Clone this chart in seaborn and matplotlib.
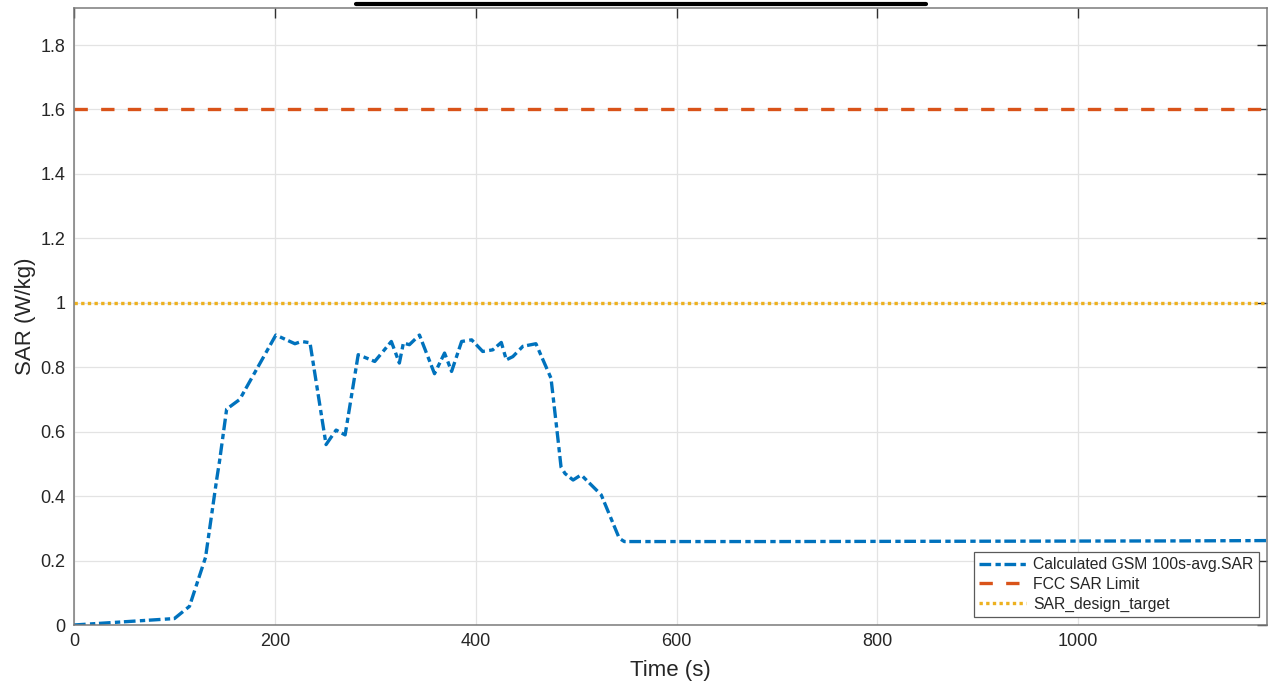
import numpy as np
import pandas as pd
import matplotlib
matplotlib.use("Agg")
import matplotlib.pyplot as plt
import seaborn as sns
from matplotlib.lines import Line2D

# ---- data ----
time_s = [0, 50, 100, 115, 131, 142, 145, 152, 165, 201, 220, 226.5, 235, 251, 261, 270,
          283, 299.5, 316, 324, 328, 334, 344, 359, 369, 376, 386, 396, 407, 417, 425.5,
          430.5, 437, 447, 460, 475, 482, 485, 489, 497, 505, 525, 543, 548, 700, 900,
          1100, 1188]
sar_avg = [0, 0.01, 0.02, 0.058, 0.21, 0.45, 0.51, 0.67, 0.70, 0.90, 0.873, 0.88, 0.876,
           0.56, 0.605, 0.59, 0.839, 0.818, 0.88, 0.813, 0.875, 0.87, 0.90, 0.78, 0.844,
           0.787, 0.88, 0.885, 0.849, 0.854, 0.877, 0.823, 0.833, 0.865, 0.873, 0.766,
           0.575, 0.49, 0.47, 0.45, 0.466, 0.404, 0.269, 0.259, 0.259, 0.26, 0.261, 0.262]
fcc_limit = 1.6
design_target = 1.0
x_ticks = [0, 200, 400, 600, 800, 1000]
y_ticks = [0, 0.2, 0.4, 0.6, 0.8, 1.0, 1.2, 1.4, 1.6, 1.8]
y_tick_labels = ["0", "0.2", "0.4", "0.6", "0.8", "1", "1.2", "1.4", "1.6", "1.8"]
labels = ["Calculated GSM 100s-avg.SAR", "FCC SAR Limit", "SAR_design_target"]

sns.set_theme(style="white")
plt.rcParams['font.family'] = ['Liberation Sans', 'DejaVu Sans']

fig = plt.figure(figsize=(12.7, 6.86), dpi=100)
ax = fig.add_axes([74/1270, 1 - 625/686, (1267 - 74)/1270, (625 - 8)/686])

df = pd.DataFrame({"Time (s)": time_s, "SAR": sar_avg})
t_end = 1188
lim_df = pd.DataFrame({"Time (s)": [0, t_end], "FCC": [fcc_limit]*2, "TGT": [design_target]*2})

lw = 2.4
sns.lineplot(data=df, x="Time (s)", y="SAR", ax=ax, color="#0072BD", linewidth=lw,
             linestyle="-.", label=labels[0], estimator=None)
ax.lines[-1].set_dashes([3.5, 1.3, 1.6, 1.1])
sns.lineplot(data=lim_df, x="Time (s)", y="FCC", ax=ax, color="#D95319", linewidth=lw,
             linestyle="--", label=labels[1], estimator=None)
ax.lines[-1].set_dashes([4.0, 4.0])
sns.lineplot(data=lim_df, x="Time (s)", y="TGT", ax=ax, color="#EDB120", linewidth=lw,
             linestyle=":", label=labels[2], estimator=None)
ax.lines[-1].set_dashes([1, 1])

ax.set_xlim(0, t_end)
ax.set_ylim(0, 1.915)
ax.set_xticks(x_ticks)
ax.set_yticks(y_ticks)
ax.set_yticklabels(y_tick_labels)
ax.tick_params(axis="both", which="both", direction="in", length=7, width=1,
               colors="#303030", labelsize=13, top=True, right=True,
               labelcolor="#262626", pad=6)
ax.grid(True, color="#e3e3e3", linewidth=0.9)
for s in ax.spines.values():
    s.set_color("#7a7a7a")
    s.set_linewidth(1.1)
    s.set_visible(True)

ax.set_xlabel("Time (s)", fontsize=16, color="#262626", labelpad=7)
ax.set_ylabel("SAR (W/kg)", fontsize=16, color="#262626", labelpad=3)

leg = ax.legend(loc="lower right", fontsize=11.3, frameon=True, fancybox=False,
                edgecolor="#5a5a5a", framealpha=1, borderpad=0.35, handlelength=3.0,
                handletextpad=0.45, labelspacing=0.3, borderaxespad=0.5)
leg.get_frame().set_linewidth(0.9)

# cut-off title underline at the very top of the image
fig.add_artist(Line2D([356/1270, 926/1270], [1 - 4/686, 1 - 4/686], color="black",
                      linewidth=3, transform=fig.transFigure))

fig.savefig("out.png", dpi=100)
